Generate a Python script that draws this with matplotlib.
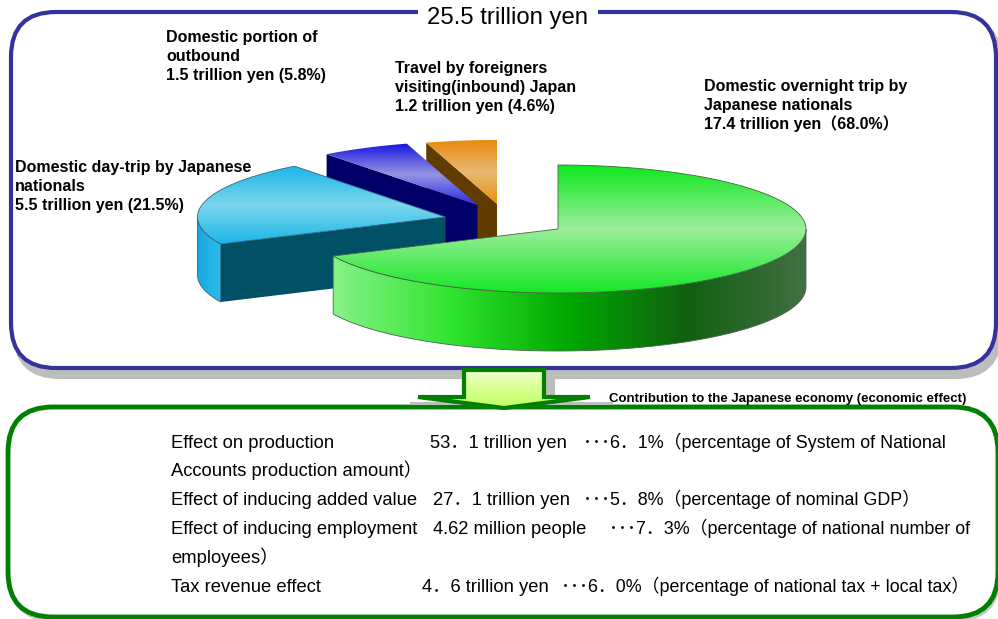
import numpy as np
import matplotlib
matplotlib.use("Agg")
import matplotlib.pyplot as plt
from matplotlib.colors import LinearSegmentedColormap
from matplotlib.patches import FancyBboxPatch, Polygon

# data
total_label = "25.5 trillion yen"
slice_names = [
    "Domestic overnight trip by\nJapanese nationals",
    "Domestic day-trip by Japanese\nnationals",
    "Domestic portion of\noutbound",
    "Travel by foreigners\nvisiting(inbound) Japan",
]
slice_amounts = [17.4, 5.5, 1.5, 1.2]
slice_shares = [68.0, 21.5, 5.8, 4.6]

effect_names = ["Effect on production", "Effect of inducing added value",
                "Effect of inducing employment", "Tax revenue effect"]
effect_amounts = ["53．1 trillion yen", "27．1 trillion yen",
                  "4.62 million people", "4．6 trillion yen"]
effect_rates = ["･･･6．1%（percentage of System of National",
                "･･･5．8%（percentage of nominal GDP）",
                "･･･7．3%（percentage of national number of",
                "･･･6．0%（percentage of national tax + local tax）"]
effect_wraps = ["Accounts production amount）", None, "employees）", None]
economy_label = "Contribution to the Japanese economy (economic effect)"

# pie geometry, in pixels
CENTERS = [(558, 229), (445.5, 217), (477.5, 205), (497, 204)]
RX, RY, DEPTH = 248, 64, 58
LABEL_POS = [(704, 91), (15, 172), (166, 42), (395, 73)]

TOP_COLORS = [["#0ee81e", "#9cee9c", "#14e824"],
              ["#1cb6e8", "#7ad6ee", "#1cb6e8"],
              ["#1414e0", "#9494e2", "#2c2ce8"],
              ["#e88a0c", "#e8ba74", "#e8900c"]]
RIM_COLORS = [["#86f286", "#30e430", "#00a800", "#106010", "#446e44"],
              ["#18a8dc", "#2cbcec"], None, None]
FACE_COLORS = ["#006000", "#005066", "#000068", "#603c00"]
EDGE_COLORS = ["#446644", "#336680", "none", "none"]

FONT = ["Liberation Sans", "Noto Sans CJK JP", "DejaVu Sans"]
plt.rcParams["font.family"] = FONT

fig = plt.figure(figsize=(9.98, 6.19), dpi=100)
ax = fig.add_axes([0, 0, 1, 1])
ax.axis("off")


def ring(cx, cy, a0, a1, dy=0):
    # angles run clockwise from 12 o'clock, in degrees
    t = np.radians(np.linspace(a0, a1, 120))
    return np.column_stack([cx + RX * np.sin(t), cy + dy - RY * np.cos(t)])


def gradient(pts, colors, vertical, zorder):
    poly = Polygon(pts, closed=True, fc="none", ec="none", zorder=zorder)
    ax.add_patch(poly)
    cmap = LinearSegmentedColormap.from_list("g", colors)
    ramp = np.linspace(0, 1, 256)
    ramp = ramp[:, None] if vertical else ramp[None, :]
    x0, y0 = pts.min(axis=0)
    x1, y1 = pts.max(axis=0)
    im = ax.imshow(ramp, cmap=cmap, extent=(x0, x1, y1, y0), origin="upper",
                   aspect="auto", zorder=zorder)
    im.set_clip_path(poly)


def rounded_box(x0, y0, x1, y1, ec, lw, zorder, fc="white"):
    ax.add_patch(FancyBboxPatch((x0, y0), x1 - x0, y1 - y0,
                                boxstyle="round,pad=0,rounding_size=45",
                                fc=fc, ec=ec, lw=lw, zorder=zorder))


# top frame
rounded_box(15, 17, 1000, 377, "#bdbdbd", 3, 1, fc="#bdbdbd")
rounded_box(11, 12, 996, 368, "#333399", 3, 2)
ax.text(508, 24, total_label, fontsize=17.2, ha="center", va="baseline", zorder=3,
        bbox=dict(fc="white", ec="none", pad=7))

# pie slices, back to front
bounds = np.cumsum([0] + slice_shares) / sum(slice_shares) * 360
for i in reversed(range(len(slice_shares))):
    z = 10 + (3 - i) * 4
    cx, cy = CENTERS[i]
    a0, a1 = bounds[i], bounds[i + 1]
    top = np.vstack([[cx, cy], ring(cx, cy, a0, a1)])

    # cut face at the start angle
    p = ring(cx, cy, a0, a0)[0]
    face = [(cx, cy), p, (p[0], p[1] + DEPTH), (cx, cy + DEPTH)]
    ax.add_patch(Polygon(face, closed=True, fc=FACE_COLORS[i], ec="none", zorder=z))

    # outer wall, only the front half shows
    r0, r1 = max(a0, 90), min(a1, 270)
    if r0 < r1:
        upper = ring(cx, cy, r0, r1)
        lower = ring(cx, cy, r0, r1, DEPTH)
        wall = np.vstack([upper, lower[::-1]])
        gradient(wall, RIM_COLORS[i], False, z + 1)
        ax.add_patch(Polygon(wall, closed=True, fc="none", ec=EDGE_COLORS[i], lw=0.6, zorder=z + 2))

    gradient(top, TOP_COLORS[i], True, z + 2)
    ax.add_patch(Polygon(top, closed=True, fc="none", ec=EDGE_COLORS[i], lw=0.6, zorder=z + 3))

# slice labels
for i, name in enumerate(slice_names):
    if i == 0:
        line = f"{slice_amounts[i]} trillion yen（{slice_shares[i]:.1f}%）"
    else:
        line = f"{slice_amounts[i]} trillion yen ({slice_shares[i]:.1f}%)"
    x, y = LABEL_POS[i]
    for k, s in enumerate((name + "\n" + line).split("\n")):
        ax.text(x, y + k * 19, s, fontsize=11.5, fontweight="bold", ha="left", va="baseline", zorder=40)

# bottom frame
rounded_box(10, 410, 999, 620, "#c8c8c8", 3, 1, fc="#c8c8c8")
rounded_box(8, 407, 998, 617, "#008000", 3.5, 2)

# arrow between the frames
arrow = np.array([(464, 370), (544, 370), (544, 397), (590, 397), (504, 408),
                  (418, 397), (464, 397)])
ax.fill([473, 555, 555, 473], [376, 376, 397, 397], fc="#bdbdbd", ec="none", zorder=3)
ax.fill([410, 613, 613, 410], [402, 402, 405, 405], fc="#bdbdbd", ec="none", zorder=3)
gradient(arrow, ["#f0ffd0", "#d8ff90", "#c0ff60"], True, 4)
ax.add_patch(Polygon(arrow, closed=True, fc="none", ec="#008000", lw=3, zorder=5, joinstyle="miter"))
ax.text(609, 402, economy_label, fontsize=9.5, fontweight="bold", ha="left", va="baseline", zorder=6)

# effect lines
row_y = [448, 505, 534, 592]
wrap_y = [476, None, 563, None]
amount_x = [430, 433, 433, 422]
rate_x = [583, 583, 609, 561]
for i in range(len(effect_names)):
    ax.text(171, row_y[i], effect_names[i], fontsize=13.2, ha="left", va="baseline", zorder=6)
    ax.text(amount_x[i], row_y[i], effect_amounts[i], fontsize=13.2, ha="left", va="baseline", zorder=6)
    ax.text(rate_x[i], row_y[i], effect_rates[i], fontsize=12.9, ha="left", va="baseline", zorder=6)
    if effect_wraps[i]:
        ax.text(171, wrap_y[i], effect_wraps[i], fontsize=13.2, ha="left", va="baseline", zorder=6)

ax.set_xlim(0, 998)
ax.set_ylim(619, 0)
fig.savefig("out.png", dpi=100)
